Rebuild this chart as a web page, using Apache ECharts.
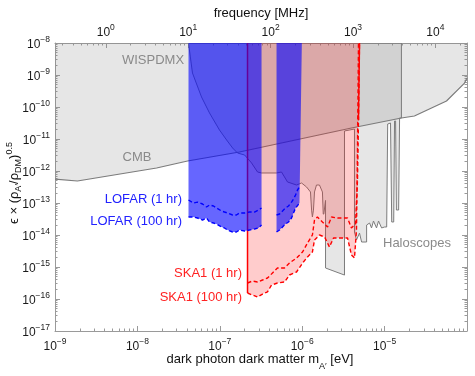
<!DOCTYPE html>
<html><head><meta charset="utf-8">
<script src="https://cdn.jsdelivr.net/npm/echarts@6/dist/echarts.min.js"></script>
<style>html,body{margin:0;padding:0;background:#fff}#c{width:475px;height:376px}</style>
</head><body><div id="c"></div>
<script>
// ---------------- data ----------------
const massTicks = [1e-9, 1e-8, 1e-7, 1e-6, 1e-5, 1e-4];
const massLabels = [1e-9, 1e-8, 1e-7, 1e-6, 1e-5];
const epsTicks = [1e-17, 1e-16, 1e-15, 1e-14, 1e-13, 1e-12, 1e-11, 1e-10, 1e-9, 1e-8];
const freqTicks = [1, 10, 100, 1000, 10000];
const MHZ_PER_EV = 2.418e8;

// CMB bound (lower edge of the excluded grey region)
const cmbMass = [1e-9, 1.87e-9, 1.71e-8, 4.06e-8, 1.73e-7, 3.96e-6, 1.60e-5, 2.30e-5, 5.64e-5, 9.33e-5, 1e-4];
const cmbEps  = [5.6e-13, 4.87e-13, 1.24e-12, 2.05e-12, 3.92e-12, 2.21e-11, 4.53e-11, 5.23e-11, 1.54e-10, 5.6e-10, 8.06e-10];

// Haloscopes / other grey excluded region (closed outline)
const haloMass = [4.17e-8, 4.66e-8, 6.00e-8, 7.50e-8, 9.91e-8, 1.21e-7, 1.43e-7, 1.64e-7, 2.00e-7, 2.43e-7, 2.87e-7, 3.21e-7,
  4.88e-7, 5.61e-7, 6.64e-7, 8.53e-7, 9.82e-7, 1.13e-6, 1.26e-6, 1.30e-6, 1.33e-6, 1.37e-6, 1.41e-6, 1.49e-6, 1.62e-6, 1.76e-6,
  1.80e-6, 1.83e-6, 1.92e-6, 1.92e-6, 3.26e-6, 3.26e-6, 4.31e-6, 4.31e-6, 4.56e-6, 4.96e-6, 5.26e-6, 6.05e-6, 6.05e-6,
  6.57e-6, 6.94e-6, 7.33e-6, 7.98e-6, 8.44e-6, 9.20e-6, 1.0e-5, 1.06e-5, 1.09e-5, 1.18e-5, 1.22e-5, 1.29e-5, 1.32e-5,
  1.36e-5, 1.39e-5, 1.48e-5, 1.52e-5, 1.60e-5, 1.60e-5];
const haloEps = [1e-8, 1.15e-9, 2.05e-10, 6.5e-11, 1.91e-11, 9.3e-12, 5.23e-12, 3.65e-12, 3.16e-12, 1.78e-12, 9.3e-13, 8.66e-13,
  8.66e-13, 9.3e-13, 4.53e-13, 3.65e-13, 4.22e-13, 3.16e-13, 2.21e-13, 6.0e-14, 3.65e-14, 6.0e-14, 2.21e-13, 3.65e-13, 3.65e-13, 2.21e-13,
  4.5e-14, 4.5e-14, 1.2e-13, 9.3e-16, 5.6e-16, 1.78e-11, 2.05e-11, 1.24e-14, 6.98e-15, 1.15e-14, 6.04e-15, 6.04e-15, 2.05e-14,
  2.37e-14, 1.66e-14, 2.74e-14, 1.66e-14, 2.74e-14, 1.66e-14, 1.78e-14, 1.78e-14, 2.94e-11, 3.16e-11, 2.55e-14, 2.55e-14, 3.65e-11,
  3.65e-11, 6.04e-14, 6.04e-14, 4.53e-11, 4.53e-11, 1e-8];

// LOFAR bands (mass range of each band)
const lofarBands = [[4.17e-8, 3.21e-7], [4.88e-7, 9.9e-7]];
// LOFAR LBA
const lbaMass  = [4.17e-8, 4.80e-8, 5.36e-8, 6.17e-8, 6.90e-8, 7.50e-8, 8.39e-8, 9.12e-8, 1.05e-7, 1.14e-7, 1.24e-7, 1.43e-7, 1.59e-7, 1.73e-7, 2.00e-7, 2.29e-7, 2.64e-7, 2.95e-7, 3.21e-7];
const lba1hr   = [1.24e-13, 1.0e-13, 1.07e-13, 9.31e-14, 7.50e-14, 8.66e-14, 8.06e-14, 6.98e-14, 5.62e-14, 5.23e-14, 4.87e-14, 4.22e-14, 4.22e-14, 4.87e-14, 4.87e-14, 5.23e-14, 5.23e-14, 6.04e-14, 6.98e-14];
const lba100hr = [3.65e-14, 3.65e-14, 3.40e-14, 2.94e-14, 3.40e-14, 2.55e-14, 2.37e-14, 2.21e-14, 1.78e-14, 1.66e-14, 1.43e-14, 1.24e-14, 1.24e-14, 1.43e-14, 1.33e-14, 1.43e-14, 1.54e-14, 1.66e-14, 2.05e-14];
// LOFAR HBA
const hbaMass  = [4.88e-7, 5.31e-7, 5.77e-7, 6.27e-7, 6.82e-7, 7.42e-7, 7.84e-7, 8.30e-7, 8.77e-7, 9.27e-7];
const hba1hr   = [4.22e-14, 4.53e-14, 5.62e-14, 6.98e-14, 8.06e-14, 1.07e-13, 1.33e-13, 1.78e-13, 2.55e-13, 3.16e-13];
const hba100hr = [1.24e-14, 1.43e-14, 1.78e-14, 2.21e-14, 2.55e-14, 3.40e-14, 4.87e-14, 6.98e-14, 8.06e-14, 1.0e-13];

// SKA1
const ska1hrMass = [2.17e-7, 2.49e-7, 2.87e-7, 3.30e-7, 3.79e-7, 4.36e-7, 5.01e-7, 6.10e-7, 7.01e-7, 8.53e-7, 1.01e-6, 1.16e-6, 1.33e-6, 1.41e-6, 1.53e-6, 1.76e-6, 2.03e-6, 2.27e-6, 2.68e-6, 3.55e-6, 3.96e-6, 4.44e-6, 4.69e-6, 4.82e-6, 4.96e-6];
const ska1hrEps  = [3.16e-16, 3.65e-16, 3.40e-16, 3.93e-16, 4.53e-16, 6.49e-16, 9.31e-16, 9.31e-16, 1.33e-15, 1.91e-15, 2.94e-15, 5.62e-15, 1.0e-14, 2.94e-14, 3.65e-14, 2.55e-14, 1.78e-14, 3.65e-14, 3.40e-14, 3.40e-14, 1.66e-14, 2.21e-14, 5.23e-13, 3.93e-11, 1e-8];
const ska100hrMass = [2.17e-7, 2.49e-7, 2.87e-7, 3.30e-7, 3.79e-7, 4.24e-7, 5.01e-7, 6.10e-7, 7.01e-7, 8.53e-7, 1.01e-6, 1.16e-6, 1.33e-6, 1.41e-6, 1.62e-6, 1.87e-6, 2.14e-6, 2.40e-6, 3.08e-6, 3.55e-6, 3.96e-6, 4.31e-6, 4.56e-6, 4.69e-6, 4.82e-6];
const ska100hrEps  = [1.54e-16, 1.33e-16, 1.15e-16, 1.43e-16, 1.66e-16, 2.74e-16, 3.16e-16, 3.40e-16, 5.62e-16, 6.98e-16, 1.33e-15, 2.05e-15, 2.94e-15, 6.98e-15, 1.0e-14, 8.66e-15, 4.22e-15, 8.06e-15, 8.06e-15, 8.06e-15, 2.37e-15, 1.91e-15, 1.43e-14, 4.53e-12, 1e-8];

// ---------------- chart ----------------
const FONT = '"Liberation Sans", Arial, sans-serif';
const zip = (a, b) => a.map((v, i) => [v, b[i]]);
function minorVals(lo, hi) { const r = []; for (let e = lo; e < hi; e++) for (let k = 2; k <= 9; k++) r.push(k * Math.pow(10, e)); return r; }
function supFmt(v) { const e = Math.round(Math.log10(v)); return '{b|10}{s|' + (e < 0 ? '\u2212' + (-e) : e) + '}'; }
const rich = {
  b: { fontSize: 12, color: '#1a1a1a', fontFamily: FONT, lineHeight: 16, verticalAlign: 'bottom' },
  s: { fontSize: 8.5, color: '#1a1a1a', fontFamily: FONT, lineHeight: 16, verticalAlign: 'top' }
};
const AX = '#9a9a9a';
const gridRect = { left: 55, right: 8, top: 43, bottom: 45, outerBoundsMode: 'none', containLabel: false };

function polySeries(pts, style, z) {
  return {
    type: 'custom', coordinateSystem: 'cartesian2d', xAxisIndex: 0, yAxisIndex: 0, data: pts, z, silent: true, clip: true,
    renderItem: (params, api) => params.dataIndex === 0
      ? { type: 'polygon', shape: { points: pts.map(p => api.coord(p)) }, style: style } : null
  };
}
function lineSeries(data, color, dashed, width, z) {
  return { type: 'line', xAxisIndex: 0, yAxisIndex: 0, data, showSymbol: false, symbol: 'none', z, silent: true, clip: true,
    lineStyle: { color, width, type: dashed ? [4, 2.5] : 'solid' } };
}

const xMin = massTicks[0], xMax = massTicks[massTicks.length - 1];
const yMin = epsTicks[0], yMax = epsTicks[epsTicks.length - 1];

const cmbPoly = zip(cmbMass, cmbEps).concat([[xMax, yMax], [xMin, yMax]]);
const haloPoly = zip(haloMass, haloEps);
const lbaPoly = [[lofarBands[0][0], yMax]].concat(zip(lbaMass, lba100hr)).concat([[lofarBands[0][1], yMax]]);
const hbaPoly = [[lofarBands[1][0], yMax]].concat(zip(hbaMass, hba100hr)).concat([[lofarBands[1][1], yMax]]);
const skaPoly = [[ska100hrMass[0], yMax]].concat(zip(ska100hrMass, ska100hrEps)).concat([[ska1hrMass[ska1hrMass.length - 1], yMax]]);
const skaLeftEdge = [[ska100hrMass[0], yMax], [ska100hrMass[0], ska100hrEps[0]]];
const skaRightEdge = [[ska1hrMass[ska1hrMass.length - 1], yMax], [ska1hrMass[ska1hrMass.length - 2], ska1hrEps[ska1hrEps.length - 2]]];

const GREY = 'rgba(128,128,128,0.2)';
const option = {
  animation: false,
  grid: [Object.assign({}, gridRect), Object.assign({}, gridRect)],
  xAxis: [
    { gridIndex: 0, type: 'log', logBase: 10, min: xMin, max: xMax, position: 'bottom',
      axisLine: { show: true, onZero: false, lineStyle: { color: AX } },
      axisTick: { show: true, inside: true, length: 5, customValues: massTicks, lineStyle: { color: AX } },
      axisLabel: { customValues: massLabels, formatter: supFmt, rich, margin: 6 }, splitLine: { show: false } },
    { gridIndex: 0, type: 'log', logBase: 10, min: xMin * MHZ_PER_EV, max: xMax * MHZ_PER_EV, position: 'top',
      axisLine: { show: true, onZero: false, lineStyle: { color: AX } },
      axisTick: { show: true, inside: true, length: 5, customValues: freqTicks, lineStyle: { color: AX } },
      axisLabel: { customValues: freqTicks, formatter: supFmt, rich, margin: 4 }, splitLine: { show: false } },
    { gridIndex: 1, type: 'log', logBase: 10, min: xMin, max: xMax, position: 'bottom',
      axisLine: { show: false }, axisLabel: { show: false }, splitLine: { show: false },
      axisTick: { show: true, inside: true, length: 2.5, customValues: minorVals(-9, -4), lineStyle: { color: AX } } },
    { gridIndex: 1, type: 'log', logBase: 10, min: xMin * MHZ_PER_EV, max: xMax * MHZ_PER_EV, position: 'top',
      axisLine: { show: false }, axisLabel: { show: false }, splitLine: { show: false },
      axisTick: { show: true, inside: true, length: 2.5, customValues: minorVals(-1, 5), lineStyle: { color: AX } } }
  ],
  yAxis: [
    { gridIndex: 0, type: 'log', logBase: 10, min: yMin, max: yMax, position: 'left',
      axisLine: { show: true, onZero: false, lineStyle: { color: AX } },
      axisTick: { show: true, inside: true, length: 5, customValues: epsTicks, lineStyle: { color: AX } },
      axisLabel: { customValues: epsTicks, formatter: supFmt, rich, margin: 5 }, splitLine: { show: false } },
    { gridIndex: 0, type: 'log', logBase: 10, min: yMin, max: yMax, position: 'right',
      axisLine: { show: true, onZero: false, lineStyle: { color: AX } },
      axisTick: { show: true, inside: true, length: 5, customValues: epsTicks, lineStyle: { color: AX } },
      axisLabel: { show: false }, splitLine: { show: false } },
    { gridIndex: 1, type: 'log', logBase: 10, min: yMin, max: yMax, position: 'left',
      axisLine: { show: false }, axisLabel: { show: false }, splitLine: { show: false },
      axisTick: { show: true, inside: true, length: 2.5, customValues: minorVals(-17, -8), lineStyle: { color: AX } } },
    { gridIndex: 1, type: 'log', logBase: 10, min: yMin, max: yMax, position: 'right',
      axisLine: { show: false }, axisLabel: { show: false }, splitLine: { show: false },
      axisTick: { show: true, inside: true, length: 2.5, customValues: minorVals(-17, -8), lineStyle: { color: AX } } }
  ],
  series: [
    polySeries(cmbPoly, { fill: GREY, stroke: null }, 1),
    polySeries(haloPoly, { fill: GREY, stroke: '#7c7c7c', lineWidth: 1 }, 1),
    lineSeries(zip(cmbMass, cmbEps), '#7c7c7c', false, 1.2, 2),
    polySeries(skaPoly, { fill: 'rgba(255,0,0,0.2)', stroke: null }, 3),
    lineSeries(skaLeftEdge, '#ff0000', false, 1.5, 4),
    lineSeries(skaRightEdge, '#ff0000', false, 1.5, 4),
    lineSeries(zip(ska1hrMass, ska1hrEps), '#ff0000', true, 1.4, 4),
    lineSeries(zip(ska100hrMass, ska100hrEps), '#ff0000', true, 1.4, 4),
    polySeries(lbaPoly, { fill: 'rgba(0,0,255,0.6)', stroke: null }, 5),
    polySeries(hbaPoly, { fill: 'rgba(0,0,255,0.6)', stroke: null }, 5),
    lineSeries(zip(lbaMass, lba1hr), '#0000ff', true, 1.4, 6),
    lineSeries(zip(lbaMass, lba100hr), '#0000ff', true, 1.4, 6),
    lineSeries(zip(hbaMass, hba1hr), '#0000ff', true, 1.4, 6),
    lineSeries(zip(hbaMass, hba100hr), '#0000ff', true, 1.4, 6)
  ],
  graphic: [
    { type: 'text', x: 153, y: 60, z: 100, style: { text: 'WISPDMX', fill: '#8a8a8a', font: '13px ' + FONT, align: 'center', verticalAlign: 'middle' } },
    { type: 'text', x: 137, y: 157, z: 100, style: { text: 'CMB', fill: '#8a8a8a', font: '13px ' + FONT, align: 'center', verticalAlign: 'middle' } },
    { type: 'text', x: 182, y: 199, z: 100, style: { text: 'LOFAR (1 hr)', fill: '#2222ff', font: '13px ' + FONT, align: 'right', verticalAlign: 'middle' } },
    { type: 'text', x: 182, y: 221, z: 100, style: { text: 'LOFAR (100 hr)', fill: '#2222ff', font: '13px ' + FONT, align: 'right', verticalAlign: 'middle' } },
    { type: 'text', x: 242, y: 273, z: 100, style: { text: 'SKA1 (1 hr)', fill: '#ff2222', font: '13px ' + FONT, align: 'right', verticalAlign: 'middle' } },
    { type: 'text', x: 242, y: 297, z: 100, style: { text: 'SKA1 (100 hr)', fill: '#ff2222', font: '13px ' + FONT, align: 'right', verticalAlign: 'middle' } },
    { type: 'text', x: 383, y: 243, z: 100, style: { text: 'Haloscopes', fill: '#8a8a8a', font: '13px ' + FONT, align: 'left', verticalAlign: 'middle' } },
    { type: 'text', x: 261, y: 13, z: 100, style: { text: 'frequency [MHz]', fill: '#111', font: '13px ' + FONT, align: 'center', verticalAlign: 'middle' } },
    { type: 'text', x: 260, y: 362, z: 100, style: {
        text: '{t|dark photon dark matter m}{sub|A\u2032}{t| [eV]}', align: 'center', verticalAlign: 'middle',
        rich: { t: { fontSize: 13, fontFamily: FONT, fill: '#111', color: '#111', lineHeight: 18, verticalAlign: 'top' },
                sub: { fontSize: 9, fontFamily: FONT, fill: '#111', color: '#111', lineHeight: 18, verticalAlign: 'bottom' } } } },
    { type: 'text', x: 14, y: 183, z: 100, rotation: Math.PI / 2, style: {
        text: '{t|\u03f5 \u00d7 (\u03c1}{sub|A\u2032}{t|/\u03c1}{sub|DM}{t|)}{sup|0.5}', align: 'center', verticalAlign: 'middle',
        rich: { t: { fontSize: 13, fontFamily: FONT, fill: '#111', color: '#111', lineHeight: 18 },
                sub: { fontSize: 9, fontFamily: FONT, fill: '#111', color: '#111', lineHeight: 18, verticalAlign: 'bottom' },
                sup: { fontSize: 9, fontFamily: FONT, fill: '#111', color: '#111', lineHeight: 18, verticalAlign: 'top' } } } }
  ]
};
const chart = echarts.init(document.getElementById('c'), null, { renderer: 'canvas' });
chart.setOption(option);
</script>
</body></html>
